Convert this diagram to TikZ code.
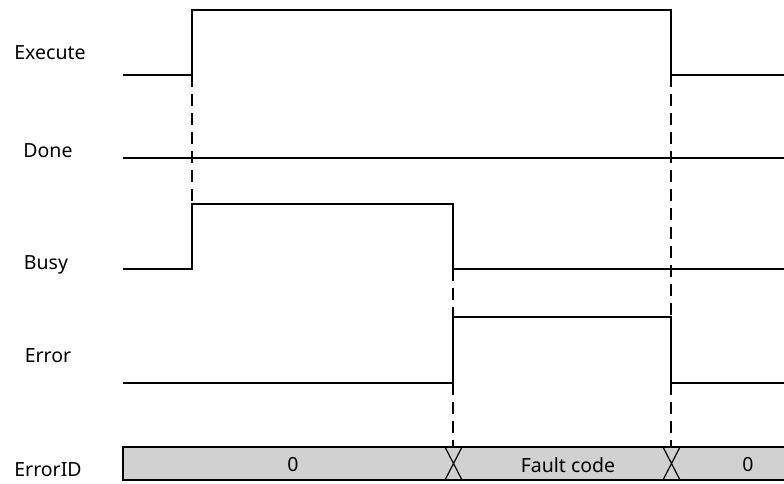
\documentclass[tikz,border=0pt]{standalone}
\usepackage{fontspec}
\setmainfont{Noto Sans}
\usetikzlibrary{positioning}

\begin{document}
\begin{tikzpicture}[x=1pt,y=-1pt,font=\fontsize{19.5}{22}\selectfont,
  sig/.style={line width=2pt,line join=miter},
  guide/.style={line width=1.3pt,dash pattern=on 12pt off 7pt},
  lbl/.style={anchor=center}]
\useasboundingbox (0,0) rectangle (784,484);
% signal names
\node[lbl] (nexec) at (50,53) {Execute};
\node[lbl] (ndone) at (48,151) {Done};
\node[lbl] (nbusy) at (46,265) {Busy};
\node[lbl] (nerr) at (48,356) {Error};
\node[lbl] (nid) at (48,470) {ErrorID};
% edges
\coordinate (e1) at (192,75); \coordinate (e2) at (671,75);
\coordinate (b1) at (192,204); \coordinate (b2) at (453,269);
\coordinate (r1) at (453,317); \coordinate (r2) at (671,317);
\coordinate (r3) at (453,383); \coordinate (r4) at (671,383);
\coordinate (x1) at (453,447); \coordinate (x2) at (671,447);
% waveforms
\draw[sig] (123,75) -- (e1) -- (192,10) -- (671,10) -- (e2) -- (784,75);
\draw[sig] (123,158) -- (784,158);
\draw[sig] (123,269) -- (192,269) -- (b1) -- (453,204) -- (b2) -- (784,269);
\draw[sig] (123,383) -- (r3) -- (r1) -- (r2) -- (r4) -- (784,383);
% ErrorID bus
\fill[black!18] (123,447) rectangle (784,480);
\draw[sig] (784,447) -- (123,447) -- (123,480) -- (784,480);
\draw[line width=1.2pt] (445,447) -- (462,480) (462,447) -- (445,480);
\draw[line width=1.2pt] (663,447) -- (680,480) (680,447) -- (663,480);
\node (v0) at (293,465) {0};
\node (vfc) at (568,465) {Fault code};
\node (v1) at (748,465) {0};
% guides
\draw[guide] (e1) -- (b1);
\draw[guide] (b2) -- (r1);
\draw[guide] (r3) -- (x1);
\draw[guide] (e2) -- (r2);
\draw[guide] (r4) -- (x2);
\end{tikzpicture}
\end{document}
